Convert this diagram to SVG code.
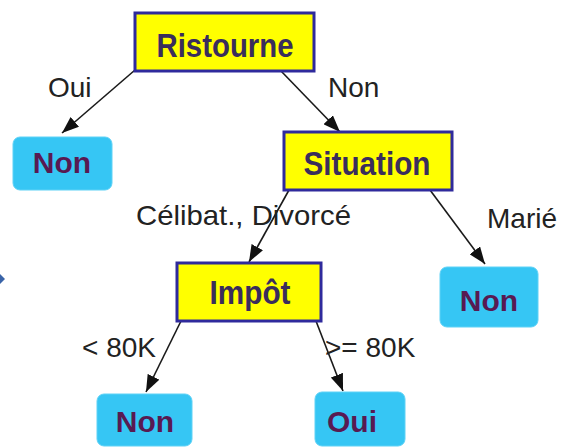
<svg xmlns="http://www.w3.org/2000/svg" width="573" height="448" viewBox="0 0 573 448">
  <style>
    .test { fill: #ffff00; stroke: #2f2a9c; stroke-width: 3; }
    .leaf { fill: #36c6f4; stroke: #5fd2f6; stroke-width: 1; }
    .ttxt { font-family: "Liberation Sans", Arial, sans-serif; font-weight: bold; font-size: 33px; fill: #3a2d5c; text-anchor: middle; }
    .ltxt { font-family: "Liberation Sans", Arial, sans-serif; font-weight: bold; font-size: 30px; fill: #581a52; text-anchor: middle; }
    .lab  { font-family: "Liberation Sans", Arial, sans-serif; font-size: 28px; fill: #222222; }
    .edge { stroke: #1a1a1a; stroke-width: 1.6; fill: none; marker-end: url(#head); }
  </style>
  <defs>
    <marker id="head" markerUnits="userSpaceOnUse" markerWidth="18" markerHeight="13" refX="17" refY="6.5" orient="auto">
      <path d="M0,0 L17,6.5 L0,13 Z" fill="#111111"/>
    </marker>
  </defs>
  <rect width="573" height="448" fill="#ffffff"/>

  <!-- small blue pointer at the left edge -->
  <polygon points="0,274 5,279 0,284" fill="#3a64a8"/>

  <g id="connectors">
    <line class="edge" x1="135" y1="70" x2="62" y2="133"/>
    <line class="edge" x1="281" y1="71" x2="340" y2="132"/>
    <line class="edge" x1="289" y1="190" x2="249" y2="262"/>
    <line class="edge" x1="430" y1="190" x2="485" y2="264"/>
    <line class="edge" x1="181" y1="321" x2="146" y2="392"/>
    <line class="edge" x1="316" y1="321" x2="343" y2="391"/>
    <text class="lab" x="48" y="97">Oui</text>
    <text class="lab" x="328" y="97">Non</text>
    <text class="lab" x="136" y="225" textLength="215" lengthAdjust="spacingAndGlyphs">Célibat., Divorcé</text>
    <text class="lab" x="487" y="228">Marié</text>
    <text class="lab" x="82" y="357">&lt; 80K</text>
    <text class="lab" x="325" y="357">&gt;= 80K</text>
  </g>

  <g id="ristourne">
    <rect class="test" x="135" y="13" width="179" height="58"/>
    <text class="ttxt" x="225" y="57" textLength="137" lengthAdjust="spacingAndGlyphs">Ristourne</text>
  </g>
  <g id="non-oui">
    <rect class="leaf" x="13" y="137" width="99" height="53" rx="7"/>
    <text class="ltxt" x="62" y="173">Non</text>
  </g>
  <g id="situation">
    <rect class="test" x="284" y="132" width="168" height="58"/>
    <text class="ttxt" x="367" y="175" textLength="127" lengthAdjust="spacingAndGlyphs">Situation</text>
  </g>
  <g id="impot">
    <rect class="test" x="177" y="263" width="144" height="58"/>
    <text class="ttxt" x="250" y="304" textLength="81" lengthAdjust="spacingAndGlyphs">Impôt</text>
  </g>
  <g id="non-marie">
    <rect class="leaf" x="440" y="267" width="98" height="60" rx="7"/>
    <text class="ltxt" x="489" y="311">Non</text>
  </g>
  <g id="non-inf80">
    <rect class="leaf" x="97" y="394" width="95" height="52" rx="7"/>
    <text class="ltxt" x="145" y="432">Non</text>
  </g>
  <g id="oui-sup80">
    <rect class="leaf" x="315" y="392" width="90" height="54" rx="7"/>
    <text class="ltxt" x="352" y="432">Oui</text>
  </g>
</svg>
